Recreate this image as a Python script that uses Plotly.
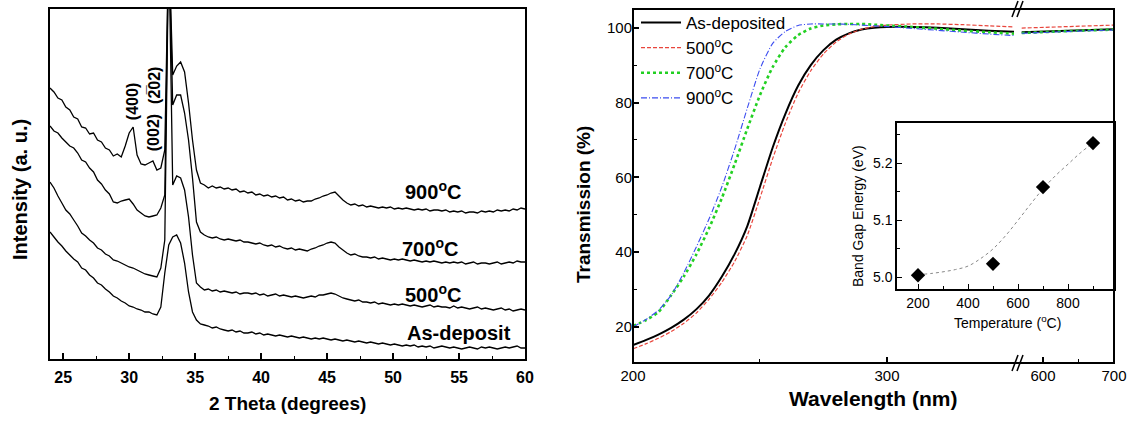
import numpy as np
import plotly.graph_objects as go

W, H = 1131, 421

# ---------------- XRD data (left panel) ----------------
# 2-theta scan, 0.3 degree step from 24 to 60
two_theta = np.round(np.arange(121) * 0.3 + 24.0, 2)

xrd_900 = [271, 267, 261, 259, 252, 249, 242, 240, 232, 231,
           225, 226, 219, 217, 211, 209, 203, 205, 202, 213,
           226, 232, 204, 195, 194, 196, 198, 189, 191, 209,
           420, 284, 293, 297, 287, 256, 219, 189, 176, 174,
           171, 173, 171, 172, 170, 171, 169, 170, 167, 168,
           166, 167, 164, 165, 163, 164, 162, 163, 161, 162,
           159, 160, 158, 159, 157, 158, 158, 160, 161, 163,
           164, 166, 167, 163, 159, 156, 154, 155, 153, 154,
           152, 153, 152, 151, 152, 151, 152, 150, 151, 150,
           151, 150, 149, 150, 149, 150, 148, 149, 149, 148,
           149, 147, 148, 147, 148, 146, 147, 147, 146, 148,
           147, 148, 147, 149, 148, 149, 148, 150, 149, 151,
           150]
xrd_700 = [233, 228, 226, 221, 217, 213, 211, 206, 199, 197,
           191, 187, 179, 175, 169, 165, 157, 156, 158, 159,
           160, 155, 149, 146, 143, 142, 143, 144, 151, 164,
           420, 254, 264, 264, 246, 219, 181, 137, 127, 124,
           122, 121, 122, 120, 119, 120, 119, 118, 119, 117,
           117, 116, 115, 116, 114, 113, 114, 112, 113, 111,
           110, 111, 109, 110, 109, 108, 110, 111, 113, 114,
           116, 117, 116, 112, 109, 106, 104, 105, 103, 102,
           102, 101, 102, 100, 101, 100, 99, 100, 99, 100,
           99, 98, 99, 98, 97, 98, 97, 98, 97, 96,
           97, 96, 97, 96, 97, 95, 96, 97, 95, 96,
           96, 95, 96, 97, 95, 96, 97, 96, 98, 97,
           97]
xrd_500 = [177, 171, 163, 156, 149, 145, 139, 133, 126, 123,
           119, 116, 111, 109, 105, 103, 99, 98, 96, 94,
           92, 91, 89, 87, 85, 84, 83, 82, 91, 119,
           420, 174, 183, 181, 169, 142, 104, 76, 72, 69,
           70, 68, 69, 67, 68, 67, 66, 67, 65, 66,
           66, 65, 66, 64, 65, 63, 64, 65, 63, 64,
           63, 62, 63, 62, 61, 62, 63, 62, 64, 64,
           65, 66, 65, 63, 61, 60, 59, 58, 59, 57,
           57, 56, 57, 55, 56, 55, 54, 55, 54, 55,
           54, 53, 54, 53, 52, 53, 54, 52, 53, 52,
           52, 51, 53, 51, 52, 51, 50, 51, 52, 50,
           51, 50, 49, 50, 51, 49, 50, 48, 49, 50,
           49]
xrd_asdep = [127, 122, 117, 113, 108, 104, 100, 97, 91, 89,
             84, 81, 76, 74, 70, 67, 63, 61, 58, 56,
             53, 52, 50, 49, 47, 47, 45, 44, 52, 86,
             114, 122, 124, 116, 96, 67, 47, 39, 35, 34,
             33, 31, 32, 30, 29, 28, 29, 27, 28, 26,
             26, 27, 25, 26, 24, 25, 24, 23, 24, 23,
             22, 23, 22, 21, 22, 21, 20, 21, 20, 21,
             20, 19, 20, 19, 18, 19, 18, 17, 18, 17,
             16, 17, 16, 15, 16, 15, 14, 15, 14, 13,
             14, 13, 14, 12, 13, 12, 13, 11, 12, 13,
             12, 11, 12, 11, 10, 11, 12, 11, 10, 12,
             11, 12, 11, 10, 11, 12, 11, 12, 13, 11,
             11]

xrd_labels = ["900<sup>o</sup>C", "700<sup>o</sup>C", "500<sup>o</sup>C", "As-deposit"]
xrd_label_pos = [(53.0, 168), (52.8, 111), (53.0, 66), (55.0, 26)]
peak_labels = ["(400)", "(002)", "(2\u030502)"]
peak_label_pos = [(30.3, 257), (31.9, 226), (31.95, 274)]

# ---------------- Transmission data (right panel) ----------------
wl_short = [200, 205, 210, 215, 220, 225, 230, 235, 240, 245, 250, 255, 260,
            265, 270, 275, 280, 285, 290, 295, 300, 310, 320, 330, 340, 350]
wl_long = [570, 600, 650, 700]

t_asdep = [15.2, 16.5, 18.0, 19.8, 22.0, 24.8, 28.5, 33.5, 39.5, 47.0, 57.5, 68.0, 77.0,
           84.5, 90.0, 94.0, 96.8, 98.5, 99.5, 100.0, 100.2, 100.2, 100.0, 99.6, 99.2, 98.9]
t_500 = [14.2, 15.5, 17.0, 18.8, 21.0, 23.8, 27.5, 32.0, 37.5, 44.5, 54.5, 65.0, 74.5,
         82.5, 88.5, 93.0, 96.2, 98.3, 99.6, 100.3, 100.7, 101.0, 101.0, 100.8, 100.5, 100.2]
t_700 = [20.3, 21.8, 24.0, 28.5, 33.5, 39.5, 46.5, 54.5, 63.5, 73.0, 82.0, 89.5, 94.8,
         98.0, 99.8, 100.6, 100.9, 101.0, 101.0, 100.8, 100.6, 100.2, 99.7, 99.2, 98.8, 98.4]
t_900 = [20.0, 22.0, 24.5, 28.5, 34.5, 41.5, 49.0, 57.5, 67.5, 78.5, 89.0, 95.8, 99.0,
         100.6, 101.0, 101.0, 101.0, 100.9, 100.7, 100.5, 100.3, 99.8, 99.3, 98.8, 98.3, 97.9]
t_asdep_long = [98.8, 99.0, 99.3, 99.6]
t_500_long = [99.9, 100.1, 100.4, 100.7]
t_700_long = [98.6, 98.9, 99.2, 99.5]
t_900_long = [98.5, 98.8, 99.1, 99.4]

series_names = ["As-deposited", "500<sup>o</sup>C", "700<sup>o</sup>C", "900<sup>o</sup>C"]
series_colors = ["#000000", "#e8453c", "#22d022", "#3b4cf0"]
series_dash = ["solid", "4px,2px", "dot", "6px,2px,1px,2px"]
series_width = [2.0, 1.2, 2.6, 1.1]

# ---------------- Band gap inset ----------------
anneal_temp = [200, 500, 700, 900]
band_gap = [5.004, 5.024, 5.158, 5.235]
fit_temp = [200, 250, 300, 350, 400, 450, 500, 550, 600, 650, 700, 750, 800, 850, 900]
fit_gap = [5.005, 5.007, 5.010, 5.014, 5.020, 5.033, 5.050, 5.073, 5.100, 5.128,
           5.155, 5.178, 5.198, 5.218, 5.235]

FONT = "Liberation Sans, Arial, sans-serif"


def px(x):
    return x / W


def py(y):
    return 1 - y / H


fig = go.Figure()

# XRD curves
for vals in (xrd_900, xrd_700, xrd_500, xrd_asdep):
    fig.add_trace(go.Scatter(x=two_theta, y=vals, mode="lines", xaxis="x", yaxis="y",
                             line=dict(color="black", width=1.3, simplify=False), showlegend=False,
                             hoverinfo="skip"))

# Transmission curves, short-wavelength segment
short_sets = [t_asdep, t_500, t_700, t_900]
long_sets = [t_asdep_long, t_500_long, t_700_long, t_900_long]
for name, col, dash, lw, ys in zip(series_names, series_colors, series_dash, series_width, short_sets):
    fig.add_trace(go.Scatter(x=wl_short, y=ys, mode="lines", xaxis="x2", yaxis="y2", name=name,
                             line=dict(color=col, dash=dash, width=lw, shape="spline", smoothing=0.6)))
for col, dash, lw, ys in zip(series_colors, series_dash, series_width, long_sets):
    fig.add_trace(go.Scatter(x=wl_long, y=ys, mode="lines", xaxis="x3", yaxis="y2", showlegend=False,
                             line=dict(color=col, dash=dash, width=lw)))

# Inset: band gap vs temperature
fig.add_trace(go.Scatter(x=fit_temp, y=fit_gap, mode="lines", xaxis="x4", yaxis="y4", showlegend=False,
                         line=dict(color="#888888", dash="dot", width=1, shape="spline")))
fig.add_trace(go.Scatter(x=anneal_temp, y=band_gap, mode="markers", xaxis="x4", yaxis="y4",
                         showlegend=False, marker=dict(symbol="diamond", size=11, color="black")))

common_ax = dict(showgrid=False, zeroline=False, color="black", automargin=False)

fig.update_layout(
    template="none",
    width=W, height=H, margin=dict(l=0, r=0, t=0, b=0, pad=0),
    paper_bgcolor="white", plot_bgcolor="white",
    font=dict(family=FONT, color="black"),
    xaxis=dict(domain=[px(50), px(525)], range=[24, 60], anchor="y",
               tickvals=[25, 30, 35, 40, 45, 50, 55, 60], ticks="inside", ticklen=6, tickwidth=1.5,
               minor=dict(tickvals=[27.5, 32.5, 37.5, 42.5, 47.5, 52.5, 57.5], ticks="inside",
                          ticklen=3, tickwidth=1.2),
               showline=True, linewidth=2, linecolor="black", mirror=True, ticklabelstandoff=3,
               tickfont=dict(size=16, family=FONT, weight="bold"), **common_ax),
    yaxis=dict(domain=[py(359), py(9)], range=[0, 350], anchor="x", showticklabels=False,
               ticks="", showline=True, linewidth=2, linecolor="black", mirror=True, **common_ax),
    xaxis2=dict(domain=[px(633), px(1015)], range=[200, 350.4], anchor="y2",
                tickvals=[200, 300], ticks="inside", ticklen=6, tickwidth=1.5,
                minor=dict(tickvals=[250], ticks="inside", ticklen=4, tickwidth=1.2),
                showline=False, ticklabelstandoff=2,
                tickfont=dict(size=15, family=FONT), **common_ax),
    xaxis3=dict(domain=[px(1020), px(1114)], range=[567.6, 700], anchor="y2",
                tickvals=[600, 700], ticks="inside", ticklen=6, tickwidth=1.5,
                minor=dict(tickvals=[650], ticks="inside", ticklen=4, tickwidth=1.2),
                showline=False, ticklabelstandoff=2,
                tickfont=dict(size=15, family=FONT), **common_ax),
    yaxis2=dict(domain=[py(363), py(9)], range=[10.4, 105], anchor="x2",
                tickvals=[20, 40, 60, 80, 100], ticks="inside", ticklen=6, tickwidth=1.5,
                minor=dict(tickvals=[30, 50, 70, 90], ticks="inside", ticklen=4, tickwidth=1.2),
                showline=False, tickfont=dict(size=15, family=FONT), **common_ax),
    xaxis4=dict(domain=[px(897), px(1114)], range=[116, 984], anchor="y4",
                tickvals=[200, 400, 600, 800], ticks="inside", ticklen=5, tickwidth=1.2,
                minor=dict(tickvals=[300, 500, 700, 900], ticks="inside", ticklen=3, tickwidth=1),
                showline=True, linewidth=1.5, linecolor="black", mirror=True,
                tickfont=dict(size=14, family=FONT), **common_ax),
    yaxis4=dict(domain=[py(289), py(123)], range=[4.98, 5.27], anchor="x4",
                tickvals=[5.0, 5.1, 5.2], ticktext=["5.0", "5.1", "5.2"], ticks="inside",
                ticklen=5, tickwidth=1.2,
                minor=dict(tickvals=[5.05, 5.15, 5.25], ticks="inside", ticklen=3, tickwidth=1),
                showline=True, linewidth=1.5, linecolor="black", mirror=True,
                tickfont=dict(size=14, family=FONT), **common_ax),
    legend=dict(x=px(636), y=py(5), xanchor="left", yanchor="top", bgcolor="rgba(0,0,0,0)",
                font=dict(size=17, family=FONT), tracegroupgap=0, itemwidth=40),
)

# Frame of the transmission panel with axis-break marks
shapes = [dict(type="rect", xref="paper", yref="paper", x0=px(633), x1=px(1114), y0=py(363), y1=py(9),
               line=dict(color="black", width=2), layer="above")]
for ybase in (9, 363):
    for dx in (0, 5):
        shapes.append(dict(type="line", xref="paper", yref="paper",
                           x0=px(1012 + dx), y0=py(ybase + 8), x1=px(1018 + dx), y1=py(ybase - 8),
                           line=dict(color="black", width=1.5), layer="above"))
fig.update_layout(shapes=shapes)


def label(text, x, y, size, ref="paper", angle=0):
    return dict(text=text, x=x, y=y, xref="paper" if ref == "paper" else "x",
                yref="paper" if ref == "paper" else "y", xanchor="center", yanchor="middle",
                showarrow=False, textangle=angle, font=dict(size=size))


ann = [
    label("<b>Intensity (a. u.)</b>", px(20), py(190), 20, angle=-90),
    label("<b>2 Theta (degrees)</b>", px(287), py(403), 19),
    label("<b>Transmission (%)</b>", px(583), py(205), 19, angle=-90),
    label("<b>Wavelength (nm)</b>", px(873), py(398), 21),
    label("Band Gap Energy (eV)", px(858), py(216), 14, angle=-90),
    label("Temperature (<sup>o</sup>C)", px(1007), py(322), 14),
]
# Curve and reflection labels on the XRD panel
for txt, (xx, yy) in zip(xrd_labels, xrd_label_pos):
    ann.append(label("<b>" + txt + "</b>", xx, yy, 20, ref="data"))
for txt, (xx, yy) in zip(peak_labels, peak_label_pos):
    ann.append(label("<b>" + txt + "</b>", xx, yy, 16, ref="data", angle=-90))
fig.update_layout(annotations=ann)

fig.write_html("out.html")
